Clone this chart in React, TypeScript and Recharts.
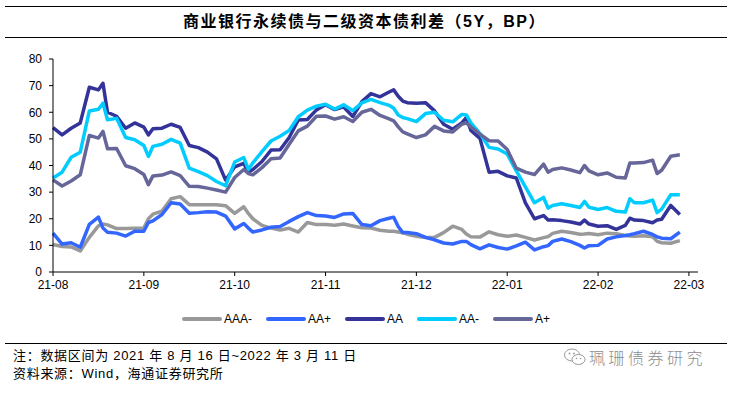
import { Line, LineChart, XAxis, YAxis } from "recharts";

// trading-day index since 2021-08-16
const dayIndex = [
  0, 2, 4, 6, 8, 10, 11, 12, 14, 16, 18, 20, 21, 22, 24, 26, 28, 30, 32, 34, 36, 38, 40, 42, 43, 44, 46, 48, 50, 52,
  54, 56, 58, 60, 62, 64, 66, 68, 70, 72, 74, 75, 76, 77, 78, 80, 82, 84, 86, 88, 90, 91, 92, 94, 96, 98, 100, 102,
  104, 106, 108, 109, 110, 112, 114, 116, 117, 118, 120, 122, 124, 126, 127, 128, 130, 132, 133, 134, 136, 138,
];

const aaaMinus = [
  10.3, 9.6, 9.4, 7.9, 13, 17.3, 18, 17.7, 16.3, 16.3, 16.4, 16.5, 20, 21.7, 22.9, 27.5, 28.3, 25.3, 25.3, 25.3, 25.3,
  24.9, 22, 24.5, 22, 20, 17.5, 16.5, 15.8, 16.4, 15, 18.6, 17.8, 17.8, 17.6, 18, 17.3, 16.6, 16.5, 15.7, 15.3, 15.3,
  15, 14.7, 14.2, 13.4, 13, 13, 14.8, 17.2, 16, 14.3, 13.2, 13.1, 15.1, 14, 13.4, 13.9, 13, 12, 12.9, 13.3, 14.5,
  15.3, 14.8, 14.2, 14.3, 14.5, 14, 14.6, 14.4, 13.7, 13.5, 13.4, 13.6, 13.2, 11.5, 11, 10.8, 11.8,
];

const aaPlus = [
  14.6, 10.5, 11, 9.3, 17.9, 20.6, 16.5, 14.9, 14.6, 13.5, 15.3, 15.3, 18.6, 19.2, 21.6, 26, 25.5, 22.1, 22.3, 22.6,
  22.5, 21, 16.2, 18.2, 16.5, 15, 15.8, 16.8, 17.1, 19, 20.8, 22.3, 21.2, 21, 20.5, 21.8, 22, 17.8, 17.4, 19.3, 20.2,
  20.6, 17.1, 14.8, 14.8, 14.4, 13, 12.1, 10.9, 10.5, 11.5, 11.5, 10.3, 8.7, 10.2, 9.2, 8.6, 9.8, 11.2, 8.3, 9.5, 9.9,
  11.5, 12.4, 11.4, 10, 9, 9.9, 10, 12.4, 13.2, 13.7, 14, 14.4, 15.3, 14.1, 13.2, 12.7, 12.5, 15,
];

const aa = [
  54.2, 51.5, 54, 56, 69.4, 68.4, 70.9, 60, 58.5, 54, 56, 54.4, 51.5, 53.8, 54, 55.5, 54.3, 47.5, 46.7, 45, 42.5,
  34.5, 39.5, 40.8, 37.5, 38.5, 41.5, 45.8, 45.9, 50.5, 57.1, 57.3, 60.9, 62.8, 61, 62, 58.4, 64, 67, 65.8, 67.6,
  68.4, 66, 64.2, 63.6, 63.4, 63.6, 60.5, 55.5, 53.6, 56, 58, 53.2, 50.2, 37.5, 37.8, 36.1, 35.3, 26, 20, 21.2, 19.5,
  19.6, 19.3, 18.8, 18, 19.5, 18, 17.2, 17.4, 16, 17.5, 20.2, 19.5, 19.3, 18.5, 19.5, 19.8, 25, 21.6,
];

const aaMinus = [
  35.3, 37.5, 43.1, 45, 60.5, 61.1, 63.4, 57.2, 57.7, 50.5, 49.7, 47.5, 43.4, 47.2, 48, 49.8, 48.4, 39, 37.7, 36.2,
  34, 32.4, 41.3, 43, 38.5, 41, 45.2, 49.2, 51, 53.2, 58.3, 60.8, 62.3, 63, 61.2, 62.8, 60.6, 63.5, 64.8, 63.6, 62.6,
  61.5, 59, 58, 57.6, 56.5, 59.5, 60, 57, 56.4, 59.2, 59, 56, 52, 46.8, 46.2, 44.3, 38, 32, 26, 28, 24, 25, 25.6, 25,
  24.2, 26.5, 24.3, 23.5, 24.2, 22.8, 22.5, 27.5, 26, 26, 27, 22.3, 23.6, 29, 29,
];

const aPlus = [
  34.6, 32.3, 34.2, 36.5, 51.3, 50.3, 52.8, 46.3, 46.4, 39.9, 38.8, 36.6, 32.8, 36.1, 36.4, 37.6, 36.2, 32.2, 32.1,
  31.5, 30.8, 30, 35.5, 38.5, 37, 36.5, 39.2, 42.5, 42.8, 48, 53, 54.8, 58.5, 58.6, 57.4, 58.3, 56.5, 60, 61.1, 58.8,
  57.5, 56.8, 54.5, 52.6, 51.9, 50.5, 51.5, 54.7, 53, 52.6, 55.5, 56, 54.5, 51.8, 49.3, 49.2, 46, 39, 37.5, 36.6,
  40.5, 37.5, 38.5, 39.1, 38.3, 37.3, 40, 38, 36.5, 37.2, 35.6, 35.3, 40.9, 40.9, 41.1, 42, 37, 38.2, 43.5, 44,
];

const monthTicks = [0, 20, 40, 60, 80, 100, 120, 140];
const monthLabels = ["21-08", "21-09", "21-10", "21-11", "21-12", "22-01", "22-02", "22-03"];
const yTicks = [0, 10, 20, 30, 40, 50, 60, 70, 80];

const series = [
  { key: "aaaMinus", name: "AAA-", color: "#999999", values: aaaMinus },
  { key: "aaPlus", name: "AA+", color: "#3366FF", values: aaPlus },
  { key: "aa", name: "AA", color: "#333399", values: aa },
  { key: "aaMinus", name: "AA-", color: "#00CCFF", values: aaMinus },
  { key: "aPlus", name: "A+", color: "#666699", values: aPlus },
];

const rows = dayIndex.map((d, i) => {
  const row: Record<string, number> = { d };
  series.forEach((s) => {
    row[s.key] = s.values[i];
  });
  return row;
});

const latin = "'Liberation Sans', Arial, sans-serif";
const cjk = "'Liberation Sans', Arial, 'Noto Sans CJK SC', sans-serif";

export default function App() {
  return (
    <div
      style={{ position: "absolute", left: 0, top: 0, width: 729, height: 396, background: "#fff", fontFamily: cjk }}
    >
      <div style={{ position: "absolute", left: 5, top: 6, width: 722, borderTop: "1.5px solid #000" }} />
      <div
        style={{
          position: "absolute",
          left: 0,
          top: 12,
          width: 729,
          textAlign: "center",
          fontSize: 16,
          fontWeight: 700,
          letterSpacing: 1.5,
          lineHeight: "20px",
          color: "#000",
        }}
      >
        商业银行永续债与二级资本债利差（5Y，BP）
      </div>
      <div style={{ position: "absolute", left: 5, top: 37, width: 722, borderTop: "1.5px solid #000" }} />

      <div style={{ position: "absolute", left: 0, top: 0 }}>
        <LineChart width={729} height={300} data={rows} margin={{ top: 59, right: 31, bottom: 0, left: 8 }}>
          <XAxis
            dataKey="d"
            type="number"
            domain={[0, 142]}
            ticks={monthTicks}
            interval={0}
            tickFormatter={(v: number) => monthLabels[monthTicks.indexOf(v)]}
            height={28}
            tickSize={4}
            tickMargin={4}
            axisLine={{ stroke: "#000" }}
            tickLine={{ stroke: "#000" }}
            tick={{ fill: "#000", fontSize: 12, fontFamily: latin }}
          />
          <YAxis
            type="number"
            domain={[0, 80]}
            ticks={yTicks}
            interval={0}
            width={45}
            tickSize={4}
            tickMargin={7}
            axisLine={{ stroke: "#000" }}
            tickLine={{ stroke: "#000" }}
            tick={{ fill: "#000", fontSize: 12, fontFamily: latin }}
          />
          {series.map((s) => (
            <Line
              key={s.key}
              dataKey={s.key}
              name={s.name}
              type="linear"
              stroke={s.color}
              strokeWidth={3.5}
              strokeLinejoin="round"
              dot={false}
              activeDot={false}
              isAnimationActive={false}
            />
          ))}
        </LineChart>
      </div>

      <div
        style={{
          position: "absolute",
          left: 182,
          top: 311,
          height: 16,
          display: "flex",
          alignItems: "center",
          fontFamily: latin,
          fontSize: 12,
          color: "#000",
        }}
      >
        {series.map((s) => (
          <div key={s.key} style={{ display: "flex", alignItems: "center", marginRight: 14 }}>
            <div style={{ width: 40, height: 4, borderRadius: 2, background: s.color, marginRight: 2 }} />
            <span>{s.name}</span>
          </div>
        ))}
      </div>

      <div style={{ position: "absolute", left: 5, top: 343, width: 722, borderTop: "1px solid #000" }} />
      <div
        style={{
          position: "absolute",
          left: 13,
          top: 347,
          fontSize: 13,
          letterSpacing: 0.7,
          lineHeight: "18px",
          color: "#000",
          whiteSpace: "nowrap",
        }}
      >
        <div>注：数据区间为 2021 年 8 月 16 日~2022 年 3 月 11 日</div>
        <div>资料来源：Wind，海通证券研究所</div>
      </div>

      <div style={{ position: "absolute", left: 563, top: 345, display: "flex", alignItems: "center", color: "#8c8c8c" }}>
        <svg width={24} height={20} viewBox="0 0 24 20">
          <ellipse cx={9} cy={8} rx={7.5} ry={6} fill="none" stroke="#9a9a9a" strokeWidth={1} />
          <ellipse cx={15.5} cy={12.5} rx={6.5} ry={5} fill="#fff" stroke="#9a9a9a" strokeWidth={1} />
          <circle cx={6.5} cy={6.5} r={0.9} fill="#9a9a9a" />
          <circle cx={11} cy={6.5} r={0.9} fill="#9a9a9a" />
          <circle cx={13.5} cy={11.5} r={0.8} fill="#9a9a9a" />
          <circle cx={17.5} cy={11.5} r={0.8} fill="#9a9a9a" />
        </svg>
        <span style={{ marginLeft: 2, fontSize: 16, letterSpacing: 3.5, fontFamily: "'Noto Sans CJK SC', sans-serif", fontWeight: 300 }}>
          珮珊债券研究
        </span>
      </div>
    </div>
  );
}
